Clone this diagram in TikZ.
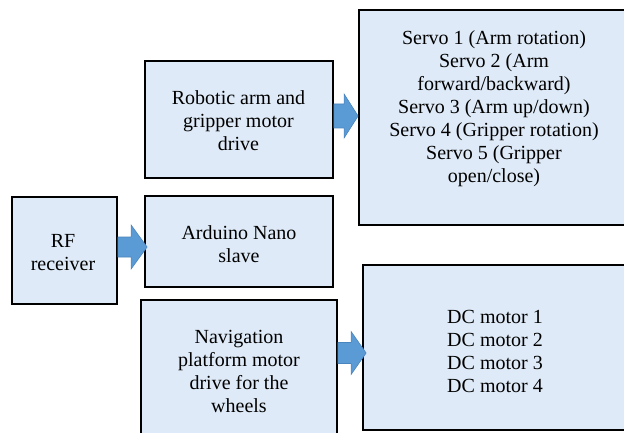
\documentclass[tikz,border=0pt]{standalone}
\usepackage{fontspec}
\setmainfont{Liberation Serif}
\newfontfamily\diagfont{Liberation Serif}
\usetikzlibrary{calc}
\definecolor{boxfill}{HTML}{DEEAF7}
\definecolor{arrfill}{HTML}{5B9BD5}
\definecolor{arrline}{HTML}{4A84BC}
\tikzset{
  blockbox/.style={draw=black, line width=1.8pt, fill=boxfill, rectangle, inner sep=0pt},
  boxtext/.style={align=center, font=\diagfont\fontsize{20pt}{23pt}\selectfont, inner sep=0pt},
  blockarrow/.style={fill=arrfill, draw=arrline, line width=0.6pt}
}
% #1 start coordinate name, #2 tip coordinate name, #3 shaft half height, #4 head half height, #5 head length
\newcommand\barrow[5]{%
  \path[blockarrow] let \p1=(#1), \p2=(#2) in
    (\x1,\y1+#3) -- (\x2-#5,\y1+#3) -- (\x2-#5,\y1+#4) -- (\x2,\y1)
    -- (\x2-#5,\y1-#4) -- (\x2-#5,\y1-#3) -- (\x1,\y1-#3) -- cycle;}
\begin{document}
\begin{tikzpicture}[x=1pt,y=1pt]
\useasboundingbox (0,0) rectangle (624,432);
\clip (0,0) rectangle (624,432);
\fill[white] (0,0) rectangle (624,432);
% boxes
\node[blockbox, minimum width=188pt, minimum height=117pt] (arm) at (239,312.5) {};
\node[blockbox, minimum width=271pt, minimum height=215pt] (servo) at (494.5,314.5) {};
\node[blockbox, minimum width=105pt, minimum height=107pt] (rf) at (64.5,181.5) {};
\node[blockbox, minimum width=188pt, minimum height=91pt] (ard) at (239,190.5) {};
\node[blockbox, minimum width=196pt, minimum height=139pt] (nav) at (239,62.5) {};
\node[blockbox, minimum width=267pt, minimum height=165pt] (dc) at (496.5,84.5) {};
% texts
\node[boxtext] (armtext) at (238.5,311) {Robotic arm and\\gripper motor\\drive};
\node[boxtext] (servotext) at (494,323.5) {Servo 1 (Arm rotation)\\Servo 2 (Arm\\forward/backward)\\Servo 3 (Arm up/down)\\Servo 4 (Gripper rotation)\\Servo 5 (Gripper\\open/close)};
\node[boxtext] (rftext) at (63,179) {RF\\receiver};
\node[boxtext] (ardtext) at (239,188) {Arduino Nano\\slave};
\node[boxtext] (navtext) at (239,61) {Navigation\\platform motor\\drive for the\\wheels};
\node[boxtext] (dctext) at (495,81) {DC motor 1\\DC motor 2\\DC motor 3\\DC motor 4};
% arrows
\coordinate (a1s) at ([yshift=3.5pt]arm.east);
\coordinate (a1e) at (servo.west |- a1s);
\barrow{a1s}{a1e}{12pt}{22pt}{14pt}
\coordinate (a2s) at ([yshift=3.5pt]rf.east);
\coordinate (a2e) at ([xshift=3pt]ard.west |- a2s);
\barrow{a2s}{a2e}{10pt}{22pt}{16pt}
\coordinate (a3s) at ([yshift=16.5pt]nav.east);
\coordinate (a3e) at ([xshift=4pt]dc.west |- a3s);
\barrow{a3s}{a3e}{10.5pt}{21.5pt}{15pt}
\end{tikzpicture}
\end{document}
